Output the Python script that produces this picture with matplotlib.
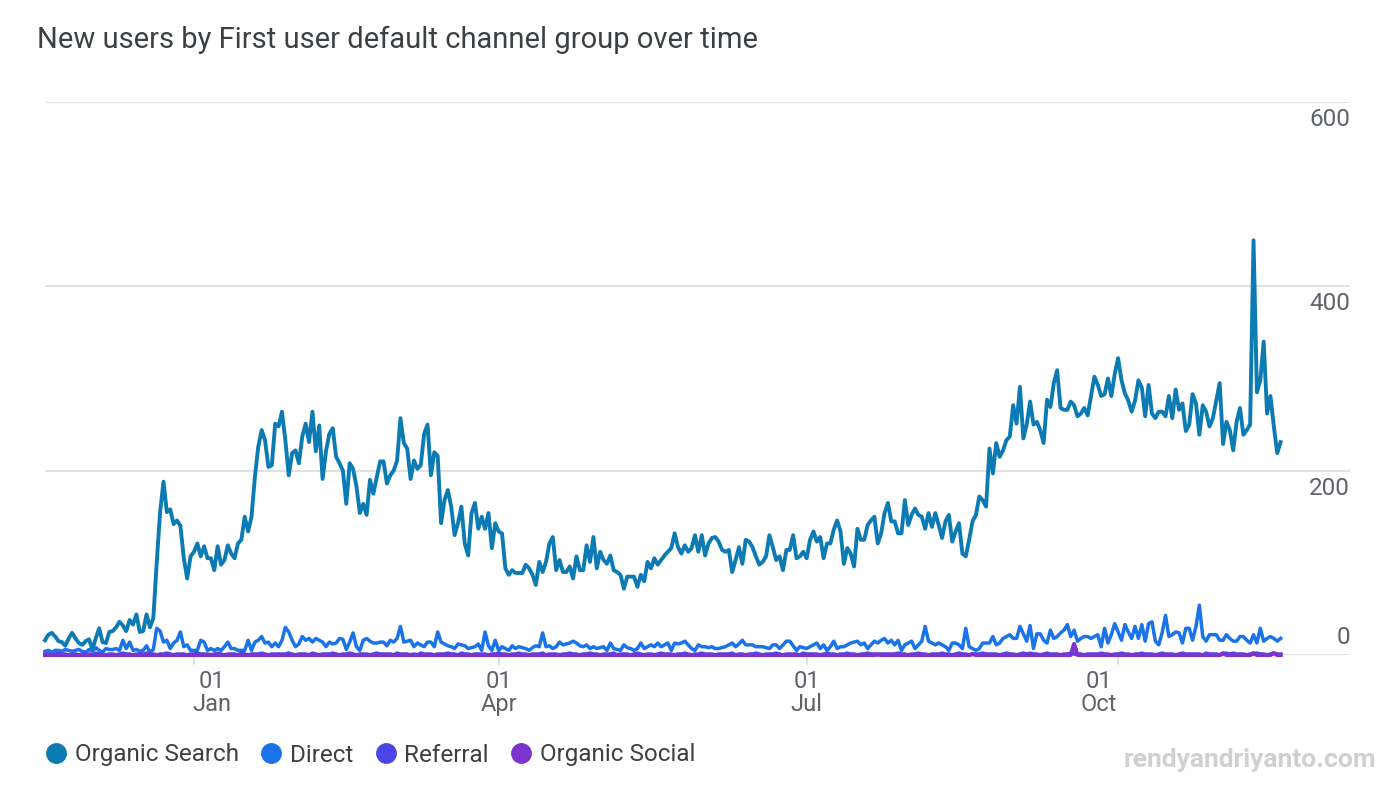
import matplotlib
matplotlib.use('Agg')
import matplotlib.pyplot as plt
import matplotlib.dates as mdates
import matplotlib.transforms as mtransforms
from matplotlib.lines import Line2D
import pandas as pd

plt.rcParams['font.family'] = ['Roboto', 'DejaVu Sans']

# daily new users, 2022-11-18 .. 2023-11-18
start_date = '2022-11-18'
series_names = ['Organic Search', 'Direct', 'Referral', 'Organic Social']
series_colors = ['#0d7bb3', '#1a73e8', '#4b45e6', '#7b35cc']

organic_search = [
    16, 22, 24, 20, 15, 14, 10, 18, 24, 18,
    13, 11, 15, 17, 6, 18, 29, 14, 13, 25,
    26, 30, 36, 32, 26, 38, 33, 44, 25, 26,
    44, 30, 40, 100, 155, 188, 155, 158, 142, 146,
    140, 105, 83, 107, 112, 121, 107, 118, 105, 105,
    92, 118, 98, 103, 119, 110, 105, 121, 125, 150,
    134, 150, 193, 226, 244, 233, 204, 206, 251, 248,
    264, 233, 195, 219, 222, 208, 237, 251, 231, 264,
    221, 249, 191, 221, 240, 246, 215, 208, 200, 164,
    208, 202, 183, 154, 164, 152, 190, 175, 193, 210,
    210, 186, 195, 200, 211, 257, 230, 224, 191, 211,
    202, 206, 240, 250, 195, 220, 216, 143, 168, 179,
    161, 130, 143, 161, 121, 108, 154, 165, 137, 150,
    137, 154, 116, 143, 134, 132, 94, 87, 92, 89,
    89, 89, 98, 94, 87, 76, 101, 90, 101, 121,
    128, 92, 103, 90, 90, 96, 83, 107, 92, 92,
    119, 101, 128, 94, 112, 103, 99, 108, 92, 90,
    87, 72, 85, 85, 85, 74, 87, 80, 101, 94,
    105, 98, 103, 108, 112, 116, 132, 117, 110, 119,
    112, 116, 130, 112, 130, 108, 121, 127, 128, 123,
    114, 112, 114, 90, 103, 117, 99, 125, 123, 117,
    107, 98, 101, 107, 130, 117, 103, 107, 92, 114,
    114, 130, 105, 107, 112, 105, 125, 134, 123, 128,
    105, 121, 121, 136, 146, 134, 99, 116, 110, 96,
    137, 125, 125, 141, 146, 150, 121, 132, 154, 165,
    145, 145, 132, 132, 168, 141, 152, 159, 152, 150,
    137, 154, 139, 154, 141, 127, 145, 152, 123, 134,
    143, 110, 107, 125, 145, 152, 172, 168, 161, 224,
    197, 230, 215, 222, 233, 237, 271, 251, 291, 235,
    250, 275, 250, 253, 244, 230, 277, 269, 295, 309,
    268, 266, 266, 275, 271, 259, 262, 268, 260, 281,
    302, 293, 281, 283, 300, 281, 305, 322, 298, 284,
    276, 264, 276, 298, 290, 259, 293, 262, 257, 264,
    264, 259, 281, 257, 288, 266, 273, 243, 250, 283,
    273, 239, 271, 264, 248, 257, 276, 295, 229, 253,
    244, 222, 253, 268, 239, 244, 250, 450, 285, 298,
    340, 262, 281, 248, 219, 231,
]

direct = [
    4, 5, 3, 5, 5, 4, 6, 5, 4, 5,
    6, 4, 3, 6, 4, 8, 5, 3, 7, 6,
    6, 7, 5, 16, 7, 14, 5, 6, 4, 5,
    10, 3, 6, 29, 26, 14, 16, 7, 13, 16,
    25, 9, 11, 5, 5, 5, 16, 14, 5, 7,
    5, 7, 5, 9, 14, 7, 7, 5, 5, 5,
    16, 5, 14, 16, 20, 13, 14, 9, 13, 9,
    16, 30, 25, 16, 9, 12, 20, 16, 18, 14,
    18, 16, 14, 9, 14, 12, 13, 18, 17, 6,
    14, 24, 9, 5, 16, 18, 15, 13, 13, 14,
    14, 10, 16, 14, 18, 31, 14, 15, 16, 9,
    13, 11, 9, 14, 14, 9, 25, 14, 12, 10,
    9, 7, 12, 11, 10, 7, 8, 9, 12, 5,
    25, 10, 5, 16, 5, 9, 7, 5, 10, 7,
    9, 8, 7, 5, 8, 10, 9, 24, 9, 10,
    7, 9, 14, 11, 12, 13, 15, 13, 10, 9,
    11, 7, 9, 7, 8, 9, 5, 13, 7, 6,
    5, 11, 8, 7, 5, 7, 13, 7, 9, 11,
    9, 13, 9, 11, 13, 5, 13, 12, 13, 15,
    11, 7, 5, 11, 9, 9, 8, 9, 7, 7,
    8, 9, 11, 13, 9, 12, 16, 11, 11, 11,
    9, 9, 9, 8, 7, 11, 11, 7, 11, 15,
    15, 10, 5, 9, 8, 7, 9, 11, 13, 7,
    11, 5, 9, 15, 7, 9, 9, 11, 13, 14,
    15, 11, 13, 7, 11, 15, 13, 16, 18, 13,
    16, 11, 16, 5, 11, 13, 15, 7, 11, 15,
    31, 15, 13, 11, 13, 11, 9, 5, 13, 13,
    11, 7, 29, 9, 7, 5, 7, 13, 13, 13,
    20, 11, 13, 18, 20, 22, 18, 18, 31, 23,
    15, 32, 7, 23, 23, 16, 13, 27, 18, 20,
    24, 27, 33, 20, 27, 15, 18, 20, 20, 18,
    20, 22, 9, 29, 13, 22, 34, 25, 16, 33,
    25, 18, 31, 18, 33, 15, 34, 36, 15, 11,
    24, 43, 20, 22, 25, 24, 13, 29, 29, 16,
    31, 54, 20, 15, 22, 22, 22, 16, 16, 22,
    18, 15, 15, 20, 20, 16, 13, 22, 13, 29,
    15, 18, 20, 18, 15, 18,
]

referral = [
    1, 1, 0, 1, 2, 1, 1, 0, 1, 1,
    0, 1, 1, 1, 0, 2, 1, 1, 0, 1,
    1, 0, 1, 2, 1, 1, 0, 1, 1, 1,
    2, 1, 1, 0, 1, 1, 2, 1, 0, 1,
    1, 1, 0, 1, 1, 2, 1, 1, 1, 0,
    1, 2, 1, 0, 1, 1, 1, 0, 2, 1,
    0, 1, 1, 1, 2, 1, 0, 1, 1, 1,
    1, 1, 2, 1, 0, 1, 1, 1, 0, 2,
    1, 0, 1, 1, 1, 2, 1, 0, 1, 1,
    2, 1, 0, 1, 1, 1, 0, 1, 2, 1,
    1, 1, 1, 0, 2, 1, 1, 1, 0, 1,
    0, 2, 1, 1, 1, 0, 1, 1, 1, 2,
    1, 1, 0, 2, 1, 1, 0, 1, 1, 1,
    1, 0, 1, 1, 2, 1, 1, 0, 1, 1,
    2, 1, 1, 0, 1, 1, 1, 2, 0, 1,
    1, 1, 0, 1, 1, 2, 1, 1, 0, 1,
    1, 2, 1, 1, 0, 1, 1, 1, 2, 0,
    1, 1, 1, 0, 1, 2, 1, 0, 1, 1,
    0, 1, 2, 1, 1, 1, 0, 1, 1, 2,
    1, 0, 1, 1, 2, 1, 1, 1, 0, 1,
    1, 1, 1, 2, 0, 1, 1, 0, 1, 1,
    2, 1, 0, 1, 1, 1, 2, 1, 0, 1,
    1, 1, 1, 0, 2, 1, 1, 1, 1, 0,
    1, 2, 1, 1, 0, 1, 1, 2, 1, 1,
    0, 1, 1, 2, 1, 1, 0, 1, 1, 1,
    1, 1, 2, 1, 1, 0, 1, 1, 2, 1,
    1, 0, 1, 1, 1, 2, 1, 1, 0, 1,
    2, 1, 1, 0, 1, 1, 1, 2, 1, 1,
    1, 1, 0, 1, 2, 1, 1, 0, 1, 2,
    1, 2, 1, 1, 0, 1, 2, 1, 1, 1,
    0, 1, 1, 2, 1, 1, 1, 0, 1, 1,
    1, 1, 2, 1, 1, 0, 1, 1, 2, 1,
    1, 0, 1, 1, 2, 1, 1, 1, 0, 1,
    2, 1, 1, 1, 0, 1, 2, 1, 1, 1,
    1, 1, 0, 2, 1, 1, 1, 0, 1, 2,
    1, 2, 1, 1, 1, 0, 1, 1, 2, 1,
    1, 0, 1, 2, 1, 1,
]

organic_social = [
    0, 0, 0, 0, 0, 0, 0, 0, 0, 0,
    0, 0, 0, 0, 0, 0, 0, 0, 0, 0,
    0, 0, 0, 0, 0, 0, 0, 0, 0, 0,
    0, 0, 0, 0, 0, 0, 0, 0, 0, 0,
    0, 0, 0, 0, 0, 0, 0, 0, 0, 0,
    0, 0, 0, 0, 0, 0, 0, 0, 0, 0,
    0, 0, 0, 0, 0, 0, 0, 0, 0, 0,
    0, 0, 0, 0, 0, 0, 0, 0, 0, 0,
    0, 0, 0, 0, 0, 0, 0, 0, 0, 0,
    0, 0, 0, 0, 0, 0, 0, 0, 0, 0,
    0, 0, 0, 0, 0, 0, 0, 0, 0, 0,
    0, 0, 0, 0, 0, 0, 0, 0, 0, 0,
    0, 0, 0, 0, 0, 0, 0, 0, 0, 0,
    0, 0, 0, 0, 0, 0, 0, 0, 0, 0,
    0, 0, 0, 0, 0, 0, 0, 0, 0, 0,
    0, 0, 0, 0, 0, 0, 0, 0, 0, 0,
    0, 0, 0, 0, 0, 0, 0, 0, 0, 0,
    0, 0, 0, 0, 0, 0, 0, 0, 0, 0,
    0, 0, 0, 0, 0, 0, 0, 0, 0, 0,
    0, 0, 0, 0, 0, 0, 0, 0, 0, 0,
    0, 0, 0, 0, 0, 0, 0, 0, 0, 0,
    0, 0, 0, 0, 0, 0, 0, 0, 0, 0,
    0, 0, 0, 0, 0, 0, 0, 0, 0, 0,
    0, 0, 0, 0, 0, 0, 0, 0, 0, 0,
    0, 0, 0, 0, 0, 0, 1, 0, 0, 0,
    0, 0, 0, 0, 0, 0, 0, 0, 0, 0,
    0, 0, 0, 0, 0, 0, 0, 0, 0, 0,
    0, 0, 0, 0, 1, 0, 0, 0, 0, 0,
    0, 0, 0, 0, 0, 0, 0, 0, 0, 0,
    0, 0, 0, 0, 0, 0, 0, 0, 0, 0,
    0, 0, 0, 0, 12, 0, 0, 0, 0, 0,
    0, 0, 0, 0, 0, 0, 0, 0, 0, 0,
    0, 0, 0, 0, 0, 0, 0, 0, 0, 0,
    0, 0, 0, 0, 0, 0, 0, 0, 0, 0,
    0, 0, 0, 0, 0, 0, 0, 0, 2, 0,
    0, 0, 0, 0, 0, 0, 0, 2, 0, 0,
    0, 0, 0, 2, 0, 0,
]

y_ticks = [0, 200, 400, 600]
x_tick_dates = ['2023-01-01', '2023-04-01', '2023-07-01', '2023-10-01']
x_tick_labels = ['01\nJan', '01\nApr', '01\nJul', '01\nOct']
x_label_shift_px = [18, 0, 0, -19]   # GA4 nudges edge labels

title = 'New users by First user default channel group over time'
watermark = 'rendyandriyanto.com'
grid_color = '#dadce0'
text_color = '#5f6368'

dates = pd.date_range(start_date, periods=len(organic_search), freq='D')

fig = plt.figure(figsize=(13.9, 7.92), dpi=100)
ax = fig.add_axes([45 / 1390, 137 / 792, 1305 / 1390, 553 / 792])

x0 = mdates.date2num(dates[0])
ax.set_xlim(x0, x0 + 385.5)
ax.set_ylim(0, 600)

# draw order: Organic Search on top, social above referral
order = [(direct, 1, 2.5, 3), (referral, 2, 2.6, 4), (organic_social, 3, 3.0, 5), (organic_search, 0, 2.8, 6)]
for vals, idx, lw, z in order:
    ax.plot(dates, vals, color=series_colors[idx], lw=lw, zorder=z,
            solid_joinstyle='round', clip_on=False)

for s in ax.spines.values():
    s.set_visible(False)

ax.set_yticks(y_ticks)
ax.yaxis.grid(True, color=grid_color, lw=1.2, zorder=0)
ax.tick_params(axis='y', length=0, labelleft=False, labelright=False)

# value labels sit at the right end of each gridline
base = mtransforms.blended_transform_factory(ax.transAxes, ax.transData)
for v in y_ticks:
    if v == 0:
        tr = mtransforms.offset_copy(base, fig=fig, y=6, units='dots')
        va = 'bottom'
    else:
        tr = mtransforms.offset_copy(base, fig=fig, y=-6, units='dots')
        va = 'top'
    ax.text(1.0, v, str(v), transform=tr, ha='right', va=va,
            fontsize=17.5, color=text_color)

ax.set_xticks(pd.to_datetime(x_tick_dates))
ax.set_xticklabels(x_tick_labels, linespacing=1.0)
ax.tick_params(axis='x', length=7, width=1.2, color=grid_color, pad=4,
               labelsize=17, labelcolor=text_color)
for lab, dx in zip(ax.get_xticklabels(), x_label_shift_px):
    lab.set_transform(lab.get_transform() + mtransforms.ScaledTranslation(dx / 100, 0, fig.dpi_scale_trans))

fig.text(37 / 1390, 1 - 40 / 792, title, ha='left', va='center',
         fontsize=21, color='#3c4043')

handles = [Line2D([], [], ls='none', marker='o', markersize=14,
                  markerfacecolor=c, markeredgecolor=c) for c in series_colors]
fig.legend(handles, series_names, loc='center left',
           bbox_to_anchor=(47 / 1390, 1 - 755 / 792), ncol=4, frameon=False,
           fontsize=17.5, labelcolor='#3c4043', handlelength=0.75,
           handletextpad=0.4, columnspacing=0.95, borderpad=0, borderaxespad=0)

fig.text(1376 / 1390, 1 - 760 / 792, watermark, ha='right', va='center',
         fontsize=19, fontweight='bold', color='#d0d0d0')

plt.savefig('out.png', dpi=100)
